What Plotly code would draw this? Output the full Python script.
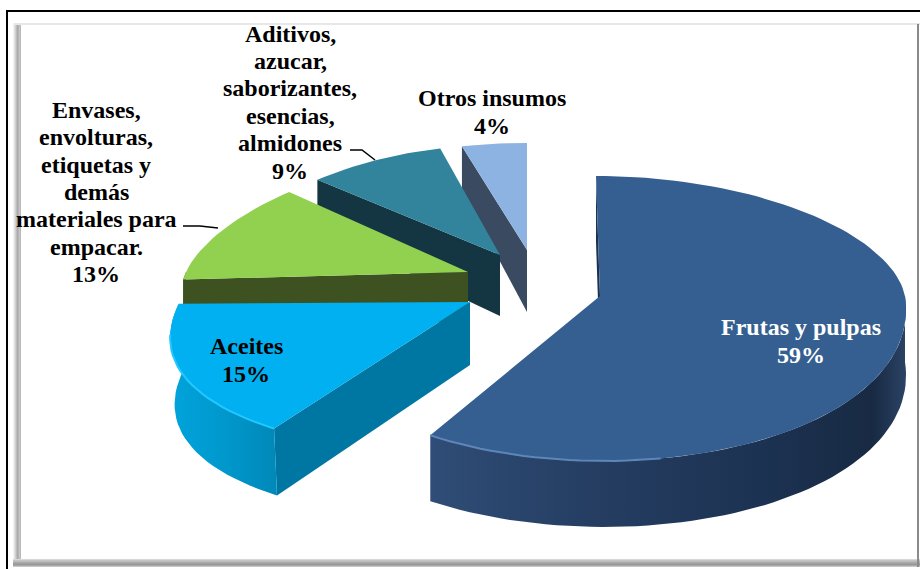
import math
import plotly.graph_objects as go

# --- data ---
categories = ["Frutas y pulpas", "Aceites",
              "Envases,<br>envolturas,<br>etiquetas y<br>demás<br>materiales para<br>empacar.",
              "Aditivos,<br>azucar,<br>saborizantes,<br>esencias,<br>almidones",
              "Otros insumos"]
values = [59, 15, 13, 9, 4]

# --- style ---
top_colors = ["#365F91", "#00B0F0", "#92D050", "#31849B", "#8DB3E2"]
cut_colors = ["#1c3150", "#0077A3", "#3D5220", "#143642", "#3A4A60"]
rim_scales = [
    [[0, "#2F4D77"], [0.3, "#263F64"], [0.7, "#1C3252"], [0.93, "#182A43"], [1, "#2B4365"]],
    [[0, "#00A4DC"], [0.5, "#0098CD"], [1, "#0088B8"]],
    [[0, "#3D5220"], [1, "#3D5220"]],
    [[0, "#143642"], [1, "#143642"]],
    [[0, "#3A4A60"], [1, "#3A4A60"]],
]
highlight = ["#5F86B8", "#22C8FF", None, None, None]
highlight_from = [170, 212.4, None, None, None]
highlight_to = [212.4, 255, None, None, None]
# apex x, apex y, rx, ry back, ry front, perspective, tilt, depth at apex, depth at rim, x skew, wall inset
geometry = [
    (600, 296, 305, 120, 165, 0.07, 0, 64, 66, 4, 0.0),
    (470, 302, 286, 110, 155, 0.33, 8, 63, 67, 0, 0.015),
    (468, 272, 282, 117, 120, 0.19, 0, 52, 28, 0, 0.0),
    (500, 255, 275, 110, 120, 0.13, 0, 61, 50, 0, 0.0),
    (527, 250, 275, 107, 120, 0.05, 0, 62, 44, 0, 0.0),
]
label_pos = [(801, 341), (246, 360), (96, 192), (290, 102), (492, 112)]
label_colors = ["white", "#000000", "#000000", "#000000", "#000000"]
FONT = "Liberation Serif"
LINE_STEP = 27.4


def rim(g, deg):
    ax, ay, rx, ry_b, ry_f, persp, tilt, _, _, skew, _ = g
    s, c = math.sin(math.radians(deg)), math.cos(math.radians(deg))
    return (ax + rx * s * (1 - persp * c) - skew * c,
            ay - (ry_b if c > 0 else ry_f) * c + tilt * s)


def arc(g, a, b):
    n = max(2, int(abs(b - a) / 2))
    return [rim(g, a + (b - a) * i / n) for i in range(n + 1)]


def lower(g, pt):
    return (pt[0] + (g[0] - pt[0]) * g[10], pt[1] + g[8])


def poly(pts, color=None, gradient=None):
    xs, ys = zip(*pts)
    kw = dict(fillgradient=dict(type="horizontal", colorscale=gradient)) if gradient else dict(fillcolor=color)
    return go.Scatter(x=list(xs) + [xs[0]], y=list(ys) + [ys[0]], mode="lines", fill="toself",
                      line=dict(width=0), hoverinfo="skip", showlegend=False, **kw)


total = sum(values)
starts = [sum(values[:i]) / total * 360 for i in range(len(values))]
ends = [sum(values[:i + 1]) / total * 360 for i in range(len(values))]

fig = go.Figure()
for i in [4, 3, 2, 1, 0]:
    g = geometry[i]
    a, b = starts[i], ends[i]
    ax, ay, da = g[0], g[1], g[7]
    # cut wall along the starting radius
    p = rim(g, a)
    fig.add_trace(poly([(ax, ay), p, lower(g, p), (ax, ay + da)], color=cut_colors[i]))
    # outer wall, the part that faces the viewer
    wa, wb = max(a, 90), min(b, 270)
    if wb > wa:
        top = arc(g, wa, wb)
        fig.add_trace(poly(top + [lower(g, q) for q in reversed(top)], gradient=rim_scales[i]))
    # top face
    fig.add_trace(poly([(ax, ay)] + arc(g, a, b), color=top_colors[i]))
    if highlight[i]:
        xs, ys = zip(*arc(g, highlight_from[i], highlight_to[i]))
        fig.add_trace(go.Scatter(x=xs, y=ys, mode="lines", line=dict(color=highlight[i], width=2),
                                 hoverinfo="skip", showlegend=False))

# leader lines
fig.add_trace(go.Scatter(x=[350, 362, 375], y=[150, 150, 160], mode="lines",
                         line=dict(color="black", width=1.5), hoverinfo="skip", showlegend=False))
fig.add_trace(go.Scatter(x=[183, 200, 218], y=[226, 226, 228], mode="lines",
                         line=dict(color="black", width=1.5), hoverinfo="skip", showlegend=False))

annotations = []
for c, v, (x, y), col in zip(categories, values, label_pos, label_colors):
    lines = c.split("<br>") + [f"{v}%"]
    for k, line in enumerate(lines):
        annotations.append(dict(
            x=x, y=y + (k - (len(lines) - 1) / 2) * LINE_STEP, xref="x", yref="y", showarrow=False,
            xanchor="center", yanchor="middle", text=f"<b>{line}</b>",
            font=dict(family=FONT, size=24, color=col)))

# bevelled frame
shapes = []
def band(x0, y0, x1, y1, color):
    shapes.append(dict(type="rect", xref="x", yref="y", x0=x0, y0=y0, x1=x1, y1=y1,
                       fillcolor=color, line=dict(width=0), layer="below"))

band(6, 10, 920, 12, "#000000")
band(6, 10, 8, 569, "#000000")
for k, col in enumerate(["#F2F2F2", "#E2E2E2", "#D0D0D0", "#BDBDBD", "#ABABAB", "#B5B5B5", "#C4C4C4", "#BBBBBB"]):
    band(13 + k, 23, 14 + k, 567, col)
band(14, 23, 920, 25, "#E8E8E8")
for k, col in enumerate(["#D8D8D8", "#C4C4C4", "#BBBBBB", "#AAAAAA", "#A0A0A0", "#999999", "#A8A8A8", "#C8C8C8"]):
    band(13, 559 + k, 920, 560 + k, col)
band(917, 24, 919, 567, "#8A8A8A")

fig.update_layout(
    width=920, height=569, margin=dict(l=0, r=0, t=0, b=0),
    paper_bgcolor="white", plot_bgcolor="white", showlegend=False,
    xaxis=dict(range=[0, 920], visible=False, fixedrange=True),
    yaxis=dict(range=[569, 0], visible=False, fixedrange=True),
    annotations=annotations, shapes=shapes,
)
fig.write_html("out.html", config=dict(displayModeBar=False),
               post_script="document.body.style.margin='0';document.body.style.overflow='hidden';")
